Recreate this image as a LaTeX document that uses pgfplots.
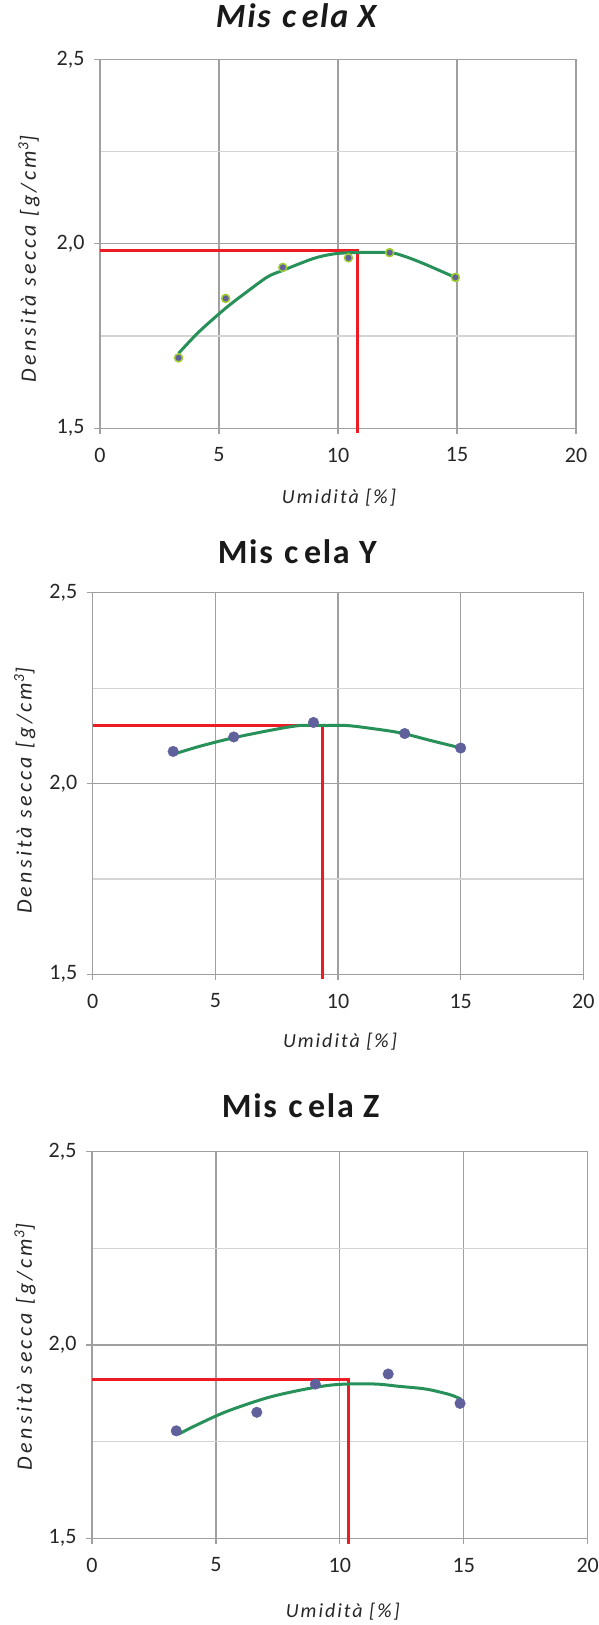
\documentclass[border=0pt]{standalone}
\usepackage{fontspec}
\setmainfont{Carlito}
\usepackage{pgfplots}
\pgfplotsset{compat=1.18}
\newfontfamily\lblfont{Carlito}[LetterSpace=10]
\newfontfamily\ylblfont{Carlito}[LetterSpace=15]
\newfontfamily\ttlfont{Carlito}[LetterSpace=5]
\definecolor{gridgray}{RGB}{160,160,160}
\definecolor{minorgray}{RGB}{212,212,212}
\definecolor{curvegreen}{RGB}{40,145,90}
\definecolor{ptpurple}{RGB}{96,96,156}
\definecolor{ptring}{RGB}{160,205,50}
\definecolor{refred}{RGB}{237,28,36}
\pgfplotsset{
  mystyle/.style={
    scale only axis, anchor=south west,
    xmin=0,xmax=20,ymin=1.5,ymax=2.5,
    xtick={0,5,10,15,20}, ytick={1.5,2,2.5}, minor ytick={1.75,2.25},
    grid=both,
    major grid style={draw=gridgray,line width=1.2pt},
    minor grid style={draw=minorgray,line width=1.2pt},
    axis line style={draw=gridgray,line width=1.2pt},
    tick style={draw=gridgray,line width=1.2pt},
    tick align=outside, tick pos=left,
    major tick length=6pt, minor tick length=0pt,
    ticklabel style={font=\fontsize{22}{26}\selectfont, text=black!85},
    /pgf/number format/assume math mode=true,
    yticklabel style={/pgf/number format/.cd, fixed, fixed zerofill, precision=1, use comma, /tikz/xshift=-6pt},
    xticklabel style={/pgf/number format/.cd, fixed, precision=0, /tikz/yshift=-10pt},
    clip=false,
    title style={font=\ttlfont\fontsize{34}{40}\selectfont\bfseries, anchor=center, text=black!90},
    xlabel style={font=\lblfont\itshape\fontsize{20}{24}\selectfont, anchor=center, text=black!85},
    ylabel style={font=\ylblfont\itshape\fontsize{22}{26}\selectfont, anchor=center, text=black!85},
    xlabel={Umidità [\%]}, ylabel={Densità secca [g/cm\textsuperscript{3}]},
  },
  redline/.style={refred, line width=3pt},
  fitline/.style={curvegreen, line width=3pt, smooth, tension=0.5},
}
\begin{document}
\begin{tikzpicture}
\useasboundingbox (0pt,0pt) rectangle (599pt,-1625pt);
% ---------- Miscela X
\begin{axis}[mystyle, at={(100pt,-428.3pt)}, width=476pt, height=369pt,
  title={\itshape Mis\,\,c\,ela X},
  title style={at={(axis description cs:0.412,1.1016)}},
  xlabel style={at={(axis description cs:0.502,-0.187)}},
  ylabel style={at={(axis description cs:-0.149,0.459)}}]
\addplot[redline] coordinates {(0,1.982) (10.83,1.982) (10.83,1.488)};
\addplot[fitline] coordinates {(3.30,1.703) (4.15,1.761) (5.27,1.825) (6.07,1.865) (7.03,1.910) (7.68,1.928) (8.96,1.960) (9.76,1.972) (10.56,1.976) (12.16,1.976) (12.80,1.966) (13.61,1.946) (14.92,1.909)};
\addplot[only marks, mark=*, mark size=4pt, mark options={fill=ptpurple, draw=ptring, line width=1.5pt}] coordinates {(3.30,1.691) (5.28,1.852) (7.68,1.936) (10.44,1.962) (12.17,1.976) (14.93,1.909)};
\end{axis}
% ---------- Miscela Y
\begin{axis}[mystyle, at={(92.7pt,-974.3pt)}, width=490.6pt, height=381.6pt,
  title={Mis\,\,c\,ela Y},
  title style={at={(axis description cs:0.417,1.0922)}},
  xlabel style={at={(axis description cs:0.504,-0.1756)}},
  ylabel style={at={(axis description cs:-0.1386,0.481)}}]
\addplot[redline] coordinates {(0,2.151) (9.38,2.151) (9.38,1.488)};
\addplot[fitline] coordinates {(3.30,2.077) (4.39,2.098) (5.75,2.120) (7.37,2.141) (8.46,2.152) (9.54,2.152) (10.35,2.152) (11.17,2.146) (12.52,2.133) (13.88,2.111) (14.96,2.094)};
\addplot[only marks, mark=*, mark size=5.3pt, mark options={fill=ptpurple, draw=ptpurple}] coordinates {(3.28,2.084) (5.75,2.122) (9.00,2.160) (12.72,2.131) (15.00,2.093)};
\end{axis}
% ---------- Miscela Z
\begin{axis}[mystyle, at={(92pt,-1538.3pt)}, width=495.7pt, height=386.6pt,
  title={Mis\,\,c\,ela Z},
  title style={at={(axis description cs:0.421,1.1027)}},
  xlabel style={at={(axis description cs:0.506,-0.1888)}},
  ylabel style={at={(axis description cs:-0.1352,0.495)}}]
\addplot[redline] coordinates {(0,1.910) (10.33,1.910) (10.33,1.485)};
\addplot[fitline] coordinates {(3.48,1.769) (4.22,1.793) (5.43,1.828) (7.04,1.863) (8.38,1.883) (9.46,1.895) (10.26,1.899) (11.47,1.899) (12.41,1.893) (13.48,1.886) (14.42,1.872) (14.89,1.860)};
\addplot[only marks, mark=*, mark size=5.3pt, mark options={fill=ptpurple, draw=ptpurple}] coordinates {(3.40,1.778) (6.65,1.826) (9.01,1.899) (11.95,1.925) (14.85,1.849)};
\end{axis}
\end{tikzpicture}
\end{document}
